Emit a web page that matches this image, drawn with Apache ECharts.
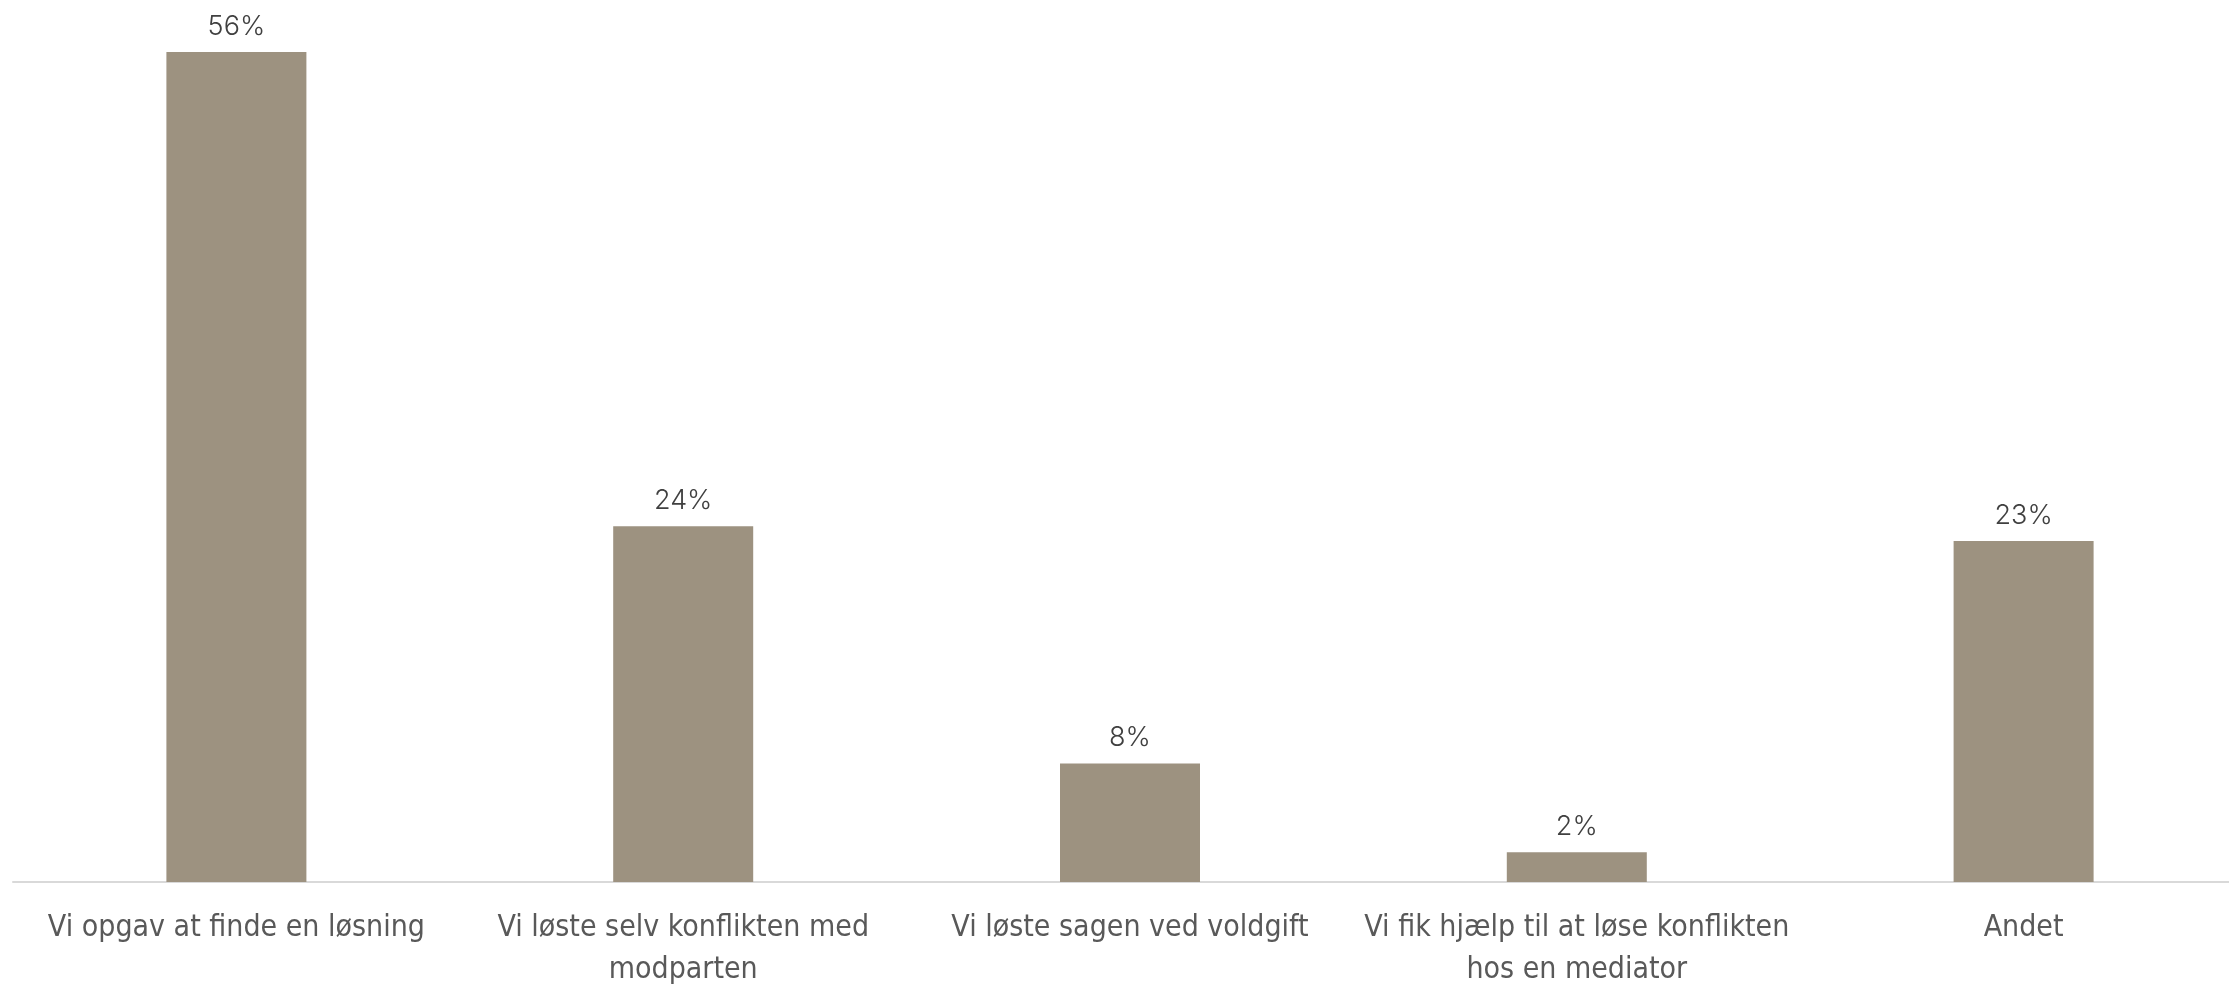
<!DOCTYPE html>
<html>
<head>
<meta charset="utf-8">
<script src="https://cdn.jsdelivr.net/npm/echarts@6/dist/echarts.min.js"></script>
<style>
  html, body { margin: 0; padding: 0; background: #ffffff; overflow: hidden; }
  #chart { width: 100vw; height: 100vh; }
</style>
</head>
<body>
<div id="chart"></div>
<script>
// Hvordan blev konflikten afsluttet? (andel af svar, %)
const categories = [
  'Vi opgav at finde en løsning',
  'Vi løste selv konflikten med\nmodparten',
  'Vi løste sagen ved voldgift',
  'Vi fik hjælp til at løse konflikten\nhos en mediator',
  'Andet'
];
const shares = [56, 24, 8, 2, 23];

const barColor = '#9d9280';
const labelFont = '"Liberation Sans Narrow", "DejaVu Sans Condensed", "Roboto", sans-serif';

const chart = echarts.init(document.getElementById('chart'), null, { renderer: 'canvas' });

chart.setOption({
  backgroundColor: '#ffffff',
  animation: false,
  grid: {
    left: 13, right: -18, top: 52, bottom: 102,
    containLabel: false,
    outerBoundsMode: 'none'
  },
  xAxis: {
    type: 'category',
    data: categories,
    axisLine: { show: true, lineStyle: { color: '#d9d9d9', width: 2 } },
    axisTick: { show: false },
    axisLabel: {
      interval: 0,
      margin: 25,
      color: '#595959',
      fontSize: 30,
      lineHeight: 42,
      fontFamily: labelFont
    },
    splitLine: { show: false }
  },
  yAxis: {
    type: 'value',
    min: 0,
    max: 56,
    show: false,
    splitLine: { show: false }
  },
  series: [{
    type: 'bar',
    data: shares,
    barWidth: 140,
    itemStyle: { color: barColor },
    label: {
      show: true,
      position: 'top',
      distance: 12,
      formatter: p => p.value + '%',
      color: '#404040',
      fontSize: 27,
      fontWeight: 300,
      fontFamily: 'Inter, "Noto Sans", sans-serif'
    }
  }]
});
window.addEventListener('resize', () => chart.resize());
</script>
</body>
</html>
